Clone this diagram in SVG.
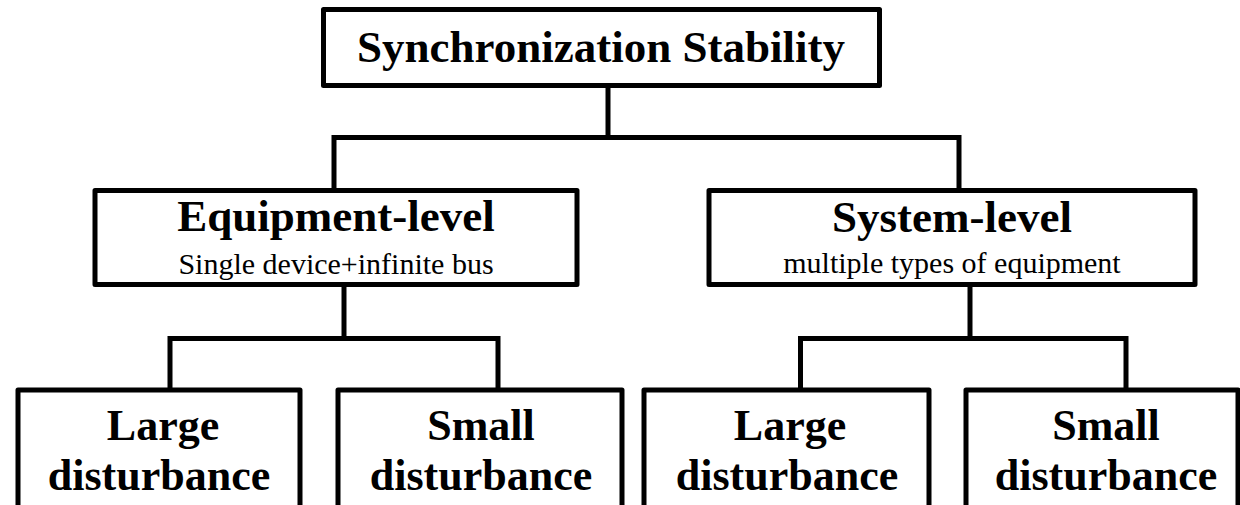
<svg xmlns="http://www.w3.org/2000/svg" width="1240" height="505" viewBox="0 0 1240 505">
  <style>
    .box { fill: #ffffff; stroke: #000000; stroke-width: 5; stroke-linejoin: round; }
    .link { fill: none; stroke: #000000; stroke-width: 5; stroke-linejoin: miter; }
    .title { font-family: "Liberation Serif", "Times New Roman", serif; font-weight: bold; font-size: 45px; fill: #000000; text-anchor: middle; }
    .leaf { font-family: "Liberation Serif", "Times New Roman", serif; font-weight: bold; font-size: 44px; fill: #000000; text-anchor: middle; }
    .sub { font-family: "Liberation Serif", "Times New Roman", serif; font-size: 30px; fill: #000000; text-anchor: middle; }
  </style>
  <rect width="1240" height="505" fill="#ffffff"/>

  <!-- tree connectors -->
  <g id="connectors">
    <path class="link" d="M608,88 V137.5"/>
    <path class="link" d="M334,190 V137.5 H959 V190"/>
    <path class="link" d="M344,287 V338.5"/>
    <path class="link" d="M170,390 V338.5 H498 V390"/>
    <path class="link" d="M970,287 V338.5"/>
    <path class="link" d="M800.5,390 V338.5 H1126 V390"/>
  </g>

  <g id="root">
    <rect class="box" x="323.5" y="9.5" width="556" height="76"/>
    <text class="title" x="601" y="62">Synchronization Stability</text>
  </g>

  <g id="equipment-level">
    <rect class="box" x="95" y="190.5" width="482" height="94"/>
    <text class="title" x="336" y="231">Equipment-level</text>
    <text class="sub" x="336" y="274">Single device+infinite bus</text>
  </g>

  <g id="system-level">
    <rect class="box" x="709" y="190.5" width="486" height="94"/>
    <text class="title" x="952" y="232">System-level</text>
    <text class="sub" x="952" y="273">multiple types of equipment</text>
  </g>

  <!-- two-line leaf labels -->
  <g id="equipment-large">
    <rect class="box" x="18" y="390" width="282" height="140"/>
    <text class="leaf"><tspan x="163" y="440">Large</tspan><tspan x="159" y="490">disturbance</tspan></text>
  </g>

  <g id="equipment-small">
    <rect class="box" x="338" y="390" width="284" height="140"/>
    <text class="leaf"><tspan x="481" y="440">Small</tspan><tspan x="481" y="490">disturbance</tspan></text>
  </g>

  <g id="system-large">
    <rect class="box" x="644" y="390" width="285" height="140"/>
    <text class="leaf"><tspan x="790" y="440">Large</tspan><tspan x="787" y="490">disturbance</tspan></text>
  </g>

  <g id="system-small">
    <rect class="box" x="966" y="390" width="272" height="140"/>
    <text class="leaf"><tspan x="1106" y="440">Small</tspan><tspan x="1106" y="490">disturbance</tspan></text>
  </g>
</svg>
